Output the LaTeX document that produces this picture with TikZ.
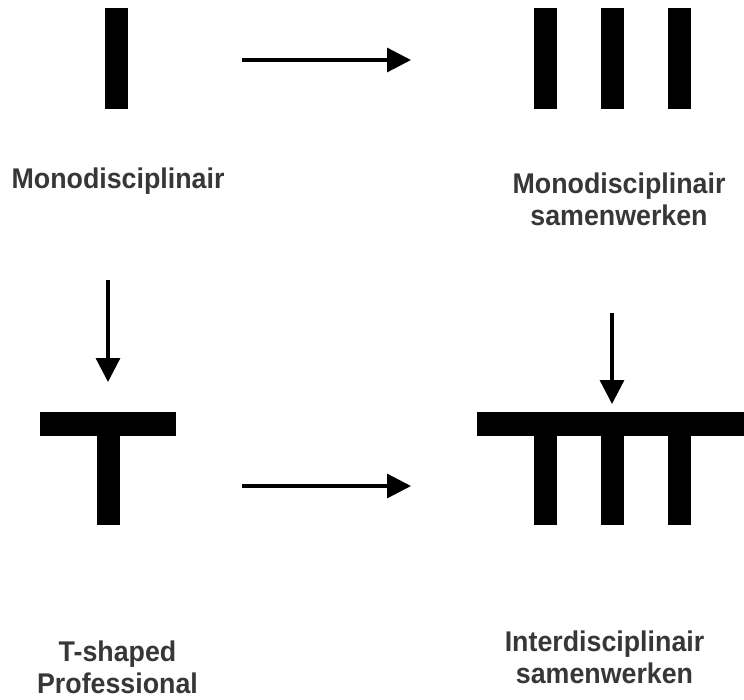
\documentclass[tikz,border=0pt]{standalone}
\usepackage{fontspec}
\newfontfamily\labelfont{Liberation Sans}[FakeStretch=0.94]
\usetikzlibrary{arrows.meta}
\definecolor{labelgray}{RGB}{55,55,55}

\begin{document}
\begin{tikzpicture}[x=1pt, y=-1pt,
    barstyle/.style={fill=black, inner sep=0pt, minimum width=23pt},
    arrowstyle/.style={line width=3.3pt, -{Triangle[length=24pt, width=24pt]}},
    labelstyle/.style={font=\labelfont\bfseries\fontsize{28.5}{32}\selectfont, text=labelgray, align=center, inner sep=0pt}]
            \useasboundingbox (0,0) rectangle (744,699);
            
            \node[barstyle, minimum height=101pt] (mono) at (116.5,58.5) {};
            \foreach \x [count=\i] in {545,612.5,679.5}
            \node[barstyle, minimum height=101pt] (team\i) at (\x,58.5) {};
            
            \node[barstyle, minimum width=136pt, minimum height=24pt] (tbar) at (108,424) {};
            \node[barstyle, minimum height=89pt] (tstem) at (108,480.5) {};
            
            \node[barstyle, minimum width=267pt, minimum height=24pt] (ibar) at (610.5,424) {};
            \foreach \x [count=\i] in {545,612.5,679.5}
            \node[barstyle, minimum height=89pt] (istem\i) at (\x,480.5) {};
            
            \coordinate (toparrowstart) at (242,60);
            \coordinate (toparrowend) at (411,60);
            \coordinate (leftarrowstart) at (108,280);
            \coordinate (leftarrowend) at (108,382);
            \coordinate (rightarrowstart) at (612,313);
            \coordinate (rightarrowend) at (612,404);
            \coordinate (botarrowstart) at (242,486);
            \coordinate (botarrowend) at (411,486);
            
            \draw[arrowstyle] (toparrowstart) -- (toparrowend);
            \draw[arrowstyle] (leftarrowstart) -- (leftarrowend);
            \draw[arrowstyle] (rightarrowstart) -- (rightarrowend);
            \draw[arrowstyle] (botarrowstart) -- (botarrowend);
            
            \node[labelstyle, anchor=base] (monolabel) at (118,188) {Monodisciplinair};
            \node[labelstyle, anchor=north] (teamlabel) at (619,173) {Monodisciplinair\\samenwerken};
            \node[labelstyle, anchor=north] (tlabel) at (117.5,641) {T-shaped\\Professional};
            \node[labelstyle, anchor=north] (ilabel) at (604.5,631) {Interdisciplinair\\samenwerken};
        \end{tikzpicture}
\end{document}
